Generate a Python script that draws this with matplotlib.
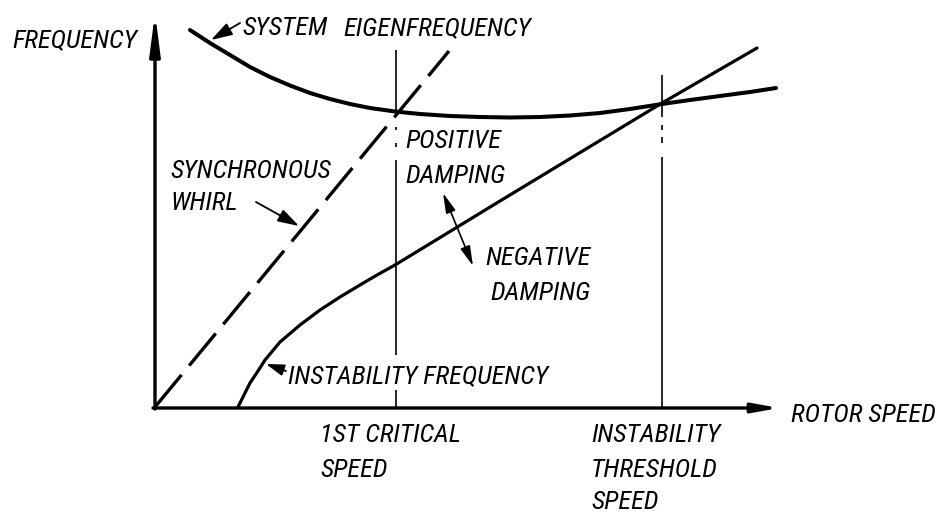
import matplotlib
matplotlib.use("Agg")
import matplotlib.pyplot as plt
from matplotlib import font_manager

# Rotor speed vs. frequency (arbitrary units)
eigen_speed = [0.35, 0.55, 0.75, 0.95, 1.15, 1.35, 1.55, 1.75, 1.95, 2.15, 2.40, 2.65,
               2.95, 3.25, 3.55, 3.85, 4.15, 4.45, 4.75, 5.07, 5.35, 5.65, 5.95, 6.21]
eigen_freq = [3.77, 3.64, 3.52, 3.40, 3.30, 3.215, 3.14, 3.08, 3.03, 2.99, 2.955, 2.93,
              2.91, 2.90, 2.895, 2.90, 2.915, 2.94, 2.98, 3.03, 3.07, 3.11, 3.15, 3.19]

sync_speed = [0.0, 2.94]
sync_freq = [0.0, 3.56]

instab_speed = [0.83, 0.89, 0.95, 1.03, 1.10, 1.25, 1.45, 1.65, 1.85, 2.05, 2.22, 2.40, 3.45, 5.07, 6.02]
instab_freq = [0.0, 0.12, 0.24, 0.36, 0.47, 0.65, 0.82, 0.97, 1.10, 1.22, 1.32, 1.42, 2.06, 3.04, 3.59]

critical_speed = 2.41
threshold_speed = 5.07

W, H = 949, 514
fig = plt.figure(figsize=(W / 100, H / 100), dpi=100)
ax = fig.add_axes([0, 0, 1, 1])
ax.set_xlim(-1.55, (W - 155) / 100)
ax.set_ylim((407 - H) / 100, 4.07)
ax.axis("off")


def P(x, y):
    """Pixel-style layout position -> data coordinates."""
    return ((x - 155) / 100, (407 - y) / 100)


# Pick a narrow sans face if one is available
def pick_font():
    fonts = font_manager.fontManager.ttflist
    names = {f.name for f in fonts}
    for name in ["Liberation Sans Narrow", "Arial Narrow", "Roboto Condensed",
                 "Open Sans Condensed", "Noto Sans Condensed", "DejaVu Sans Condensed"]:
        if name in names:
            return name, "normal"
    for f in fonts:
        if f.stretch in ("condensed", "semi-condensed") and f.name in (
                "Noto Sans", "Open Sans", "Roboto", "Liberation Sans", "DejaVu Sans"):
            return f.name, f.stretch
    return "Liberation Sans", "normal"


family, stretch = pick_font()
fig.canvas.draw()
renderer = fig.canvas.get_renderer()
probe = ax.text(0, 0, "SYNCHRONOUS", family=family, stretch=stretch,
                fontstyle="italic", fontsize=17.5)
probe_w = probe.get_window_extent(renderer).width
probe.remove()
FS = min(19.0, 17.5 * 170.0 / probe_w)

tkw = dict(family=family, stretch=stretch, fontstyle="italic", fontsize=FS,
           color="black", ha="left", va="baseline", zorder=6)

# Axes with arrow heads
ax.annotate("", xy=P(155, 13), xytext=P(155, 409),
            arrowprops=dict(arrowstyle="-|>,head_length=1.7,head_width=0.22",
                            mutation_scale=14, lw=2.4, color="black",
                            shrinkA=0, shrinkB=0), zorder=5)
ax.annotate("", xy=P(779, 408), xytext=P(153, 408),
            arrowprops=dict(arrowstyle="-|>,head_length=1.1,head_width=0.2",
                            mutation_scale=14, lw=2.4, color="black",
                            shrinkA=0, shrinkB=0), zorder=5)

# Curves
ax.plot(eigen_speed, eigen_freq, color="black", lw=2.9,
        solid_capstyle="round", solid_joinstyle="round", zorder=4)
ax.plot(instab_speed, instab_freq, color="black", lw=2.3,
        solid_capstyle="round", solid_joinstyle="round", zorder=4)
ax.plot(sync_speed, sync_freq, color="black", lw=2.4,
        linestyle=(0, (12.5, 3.6)), dash_capstyle="butt", zorder=4)

# Critical speed and instability threshold markers
vkw = dict(color="black", lw=1.2, zorder=3, solid_capstyle="butt")
crit_segments = [(50, 113), (127, 130), (143, 147), (160, 355), (390, 408)]
for top, bot in crit_segments:
    ax.plot([critical_speed, critical_speed], [P(0, top)[1], P(0, bot)[1]], **vkw)
thr_segments = [(75, 117), (125, 130), (137, 143), (157, 408)]
for top, bot in thr_segments:
    ax.plot([threshold_speed, threshold_speed], [P(0, top)[1], P(0, bot)[1]], **vkw)

# Labels
ax.text(*P(12, 47), "FREQUENCY", **tkw)
ax.text(*P(242, 35), "SYSTEM", **tkw)
ax.text(*P(343, 35), "EIGENFREQUENCY", **tkw)
ax.text(*P(170, 178), "SYNCHRONOUS", **tkw)
ax.text(*P(170, 210), "WHIRL", **tkw)
ax.text(*P(405, 148), "POSITIVE", **tkw)
ax.text(*P(405, 183), "DAMPING", **tkw)
ax.text(*P(485, 265), "NEGATIVE", **tkw)
ax.text(*P(490, 300), "DAMPING", **tkw)
ax.text(*P(288, 383), "INSTABILITY FREQUENCY", **tkw)
ax.text(*P(320, 442), "1ST CRITICAL", **tkw)
ax.text(*P(320, 477), "SPEED", **tkw)
ax.text(*P(591, 442), "INSTABILITY", **tkw)
ax.text(*P(591, 477), "THRESHOLD", **tkw)
ax.text(*P(591, 509), "SPEED", **tkw)
ax.text(*P(791, 422), "ROTOR SPEED", **tkw)


# Leader arrows
def leader(tail, head, style="-|>,head_length=1.3,head_width=0.4", lw=1.3):
    ax.annotate("", xy=P(*head), xytext=P(*tail),
                arrowprops=dict(arrowstyle=style, mutation_scale=10, lw=lw,
                                color="black", shrinkA=0, shrinkB=0), zorder=5)


leader((240, 23), (211, 40))
leader((256, 202), (299, 226))
leader((286, 371), (266, 364), style="-|>,head_length=1.1,head_width=0.35")
leader((443, 193), (473, 266), style="<|-|>,head_length=1.2,head_width=0.3", lw=1.2)

fig.savefig("out.png", dpi=100, facecolor="white")
